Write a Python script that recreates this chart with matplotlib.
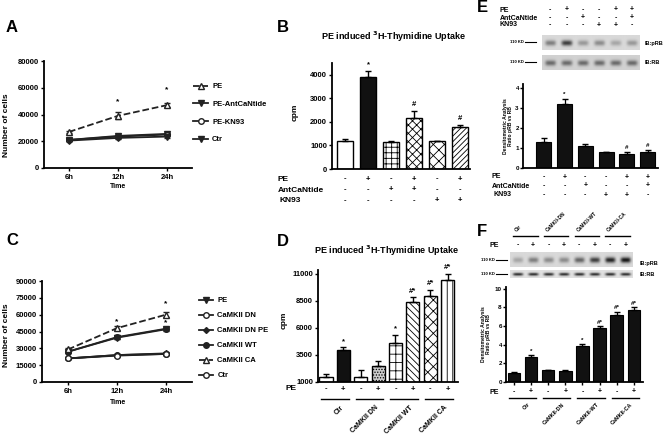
import numpy as np
import matplotlib
matplotlib.use("Agg")
import matplotlib.pyplot as plt
from matplotlib.transforms import blended_transform_factory
from matplotlib.lines import Line2D

# ----------------------------
# Data
# ----------------------------
times = ["6h", "12h", "24h"]

# panel A - cell number
a_names = ["PE", "PE-AntCaNtide", "PE-KN93", "Ctr"]
a_vals = [[27000, 39000, 47000],
          [21000, 24000, 25500],
          [21000, 23500, 25000],
          [20500, 22500, 23500]]
a_errs = [[1000, 2500, 1500],
          [600, 800, 1000],
          [600, 800, 900],
          [500, 700, 800]]
a_stars = [(1, 49300), (2, 58300)]

# panel C - cell number
c_names = ["PE", "CaMKII DN", "CaMKII DN PE", "CaMKII WT", "CaMKII CA", "Ctr"]
c_vals = [[27000, 39500, 47000],
          [21000, 24000, 25000],
          [21000, 24000, 25500],
          [27000, 40000, 47500],
          [29000, 48000, 60000],
          [21000, 23500, 25000]]
c_errs = [[1000, 1500, 1500],
          [600, 800, 800],
          [600, 800, 800],
          [1000, 1500, 1500],
          [1000, 1500, 2500],
          [600, 800, 800]]
c_stars = [(1, 53500), (2, 69500), (2, 52500)]

# panel B - thymidine uptake
b_vals = [1200, 3900, 1150, 2150, 1170, 1800]
b_errs = [70, 250, 40, 300, 30, 80]
b_marks = ["", "*", "", "#", "", "#"]
b_pe = ["-", "+", "-", "+", "-", "+"]
b_ant = ["-", "-", "+", "+", "-", "-"]
b_kn = ["-", "-", "-", "-", "+", "+"]

# panel D - thymidine uptake
d_vals = [1500, 3950, 1500, 2500, 4600, 8400, 9000, 10400]
d_errs = [200, 250, 600, 450, 750, 450, 500, 600]
d_marks = ["", "*", "", "", "*", "#*", "#*", "#*"]
d_groups = ["Ctr", "CaMKII DN", "CaMKII WT", "CaMKII CA"]
pe_pairs = ["-", "+", "-", "+", "-", "+", "-", "+"]

# panel E - densitometry
e_vals = [1.3, 3.2, 1.1, 0.78, 0.7, 0.8]
e_errs = [0.2, 0.25, 0.08, 0.02, 0.1, 0.1]
e_marks = ["", "*", "", "", "#", "#"]
e_pe = ["-", "+", "-", "-", "+", "+"]
e_ant = ["-", "-", "+", "-", "-", "+"]
e_kn = ["-", "-", "-", "+", "+", "-"]
e_prb = [0.35, 0.6, 0.25, 0.3, 0.2, 0.25]
e_rb = [0.4, 0.4, 0.4, 0.4, 0.4, 0.4]

# panel F - densitometry
f_vals = [1.0, 2.65, 1.25, 1.2, 3.85, 5.8, 7.2, 7.75]
f_errs = [0.05, 0.2, 0.05, 0.05, 0.2, 0.2, 0.35, 0.3]
f_marks = ["", "*", "", "", "*", "#*", "#*", "#*"]
f_groups = ["Ctr", "CaMKII-DN", "CaMKII-WT", "CaMKII-CA"]
f_prb = [0.2, 0.35, 0.3, 0.3, 0.45, 0.6, 0.7, 0.75]
f_rb = [0.7, 0.7, 0.7, 0.7, 0.7, 0.7, 0.7, 0.7]

# ----------------------------
# Style
# ----------------------------
plt.rcParams["font.family"] = ["Liberation Sans", "DejaVu Sans"]
plt.rcParams["font.weight"] = "bold"
plt.rcParams["font.size"] = 5.5
plt.rcParams["axes.linewidth"] = 1.3
plt.rcParams["xtick.major.width"] = 1.0
plt.rcParams["ytick.major.width"] = 1.0
plt.rcParams["xtick.major.size"] = 2.5
plt.rcParams["ytick.major.size"] = 2.5
plt.rcParams["xtick.major.pad"] = 1.5
plt.rcParams["ytick.major.pad"] = 1.0
plt.rcParams["hatch.linewidth"] = 0.6

W, H = 664, 434
fig = plt.figure(figsize=(W / 100, H / 100), dpi=100)


def box(l, t, r, b):
    return [l / W, 1 - b / H, (r - l) / W, (b - t) / H]


def fx(x):
    return x / W


def fy(y):
    return 1 - y / H


def ftext(x, y, s, **kw):
    fig.text(fx(x), fy(y), s, **kw)


def prism(ax):
    for s in ["top", "right"]:
        ax.spines[s].set_visible(False)


def sign_row(ax, y, signs, size=5.5):
    tr = blended_transform_factory(ax.transData, fig.transFigure)
    for i, s in enumerate(signs):
        ax.text(i, fy(y), s, transform=tr, ha="center", va="center", fontsize=size)


def group_labels(ax, y_line, y_text, groups, size=5, above=False):
    tr = blended_transform_factory(ax.transData, fig.transFigure)
    for g, name in enumerate(groups):
        ax.add_line(Line2D([2 * g - 0.3, 2 * g + 1.3], [fy(y_line)] * 2,
                           transform=tr, color="black", lw=1.0, clip_on=False))
        if above:
            ax.text(2 * g, fy(y_text), name, transform=tr, rotation=45,
                    ha="left", va="bottom", rotation_mode="anchor", fontsize=size)
        else:
            ax.text(2 * g + 0.8, fy(y_text), name, transform=tr, rotation=45,
                    ha="right", va="top", rotation_mode="anchor", fontsize=size)


def blot(ax, levels, bg):
    n = len(levels)
    w = 20
    yy = np.arange(15)[:, None]
    xx = np.arange(w)[None, :]
    band = np.exp(-((yy - 7.5) / 2.8) ** 2) * np.exp(-((xx - w / 2) / (w * 0.33)) ** 4)
    img = np.full((15, n * w), bg)
    for i, lv in enumerate(levels):
        img[:, i * w:(i + 1) * w] -= lv * band
    ax.imshow(img, cmap="gray", vmin=0, vmax=1, aspect="auto",
              interpolation="bilinear", extent=(-0.5, n - 0.5, 1, 0))
    ax.set_xticks([])
    ax.set_yticks([])
    for s in ax.spines.values():
        s.set_visible(False)


# ----------------------------
# Panel A
# ----------------------------
axA = fig.add_axes(box(44, 61, 192, 168))
styles_a = [dict(marker="^", ls="--", mfc="white"),
            dict(marker="v", ls="-", mfc="#222222"),
            dict(marker="o", ls="-", mfc="white"),
            dict(marker="v", ls="-", mfc="#222222")]
handles = []
x = np.arange(3)
for vals, errs, st in zip(a_vals, a_errs, styles_a):
    c = axA.errorbar(x, vals, yerr=errs, color="#222222", lw=1.3, ms=4,
                     mew=1.0, capsize=2, elinewidth=0.9, **st)
    handles.append(c.lines[0])
for xi, yi in a_stars:
    axA.text(xi, yi, "*", ha="center", va="center", fontsize=6)
axA.set_xlim(-0.51, 2.51)
axA.set_ylim(0, 80000)
axA.set_yticks(np.arange(0, 80001, 20000))
axA.set_xticks(x)
axA.set_xticklabels(times)
prism(axA)
axA.legend(handles, a_names, loc="upper left", bbox_to_anchor=(fx(193), fy(83)),
           bbox_transform=fig.transFigure, frameon=False, labelspacing=1.35,
           handlelength=2.0, handletextpad=0.5, borderpad=0, borderaxespad=0,
           fontsize=5.5)
ftext(118, 187, "Time", ha="center", va="center", fontsize=5)
ftext(7, 125, "Number of cells", rotation=90, ha="center", va="center", fontsize=6)
ftext(12, 28, "A", ha="center", va="center", fontsize=12)

# ----------------------------
# Panel C
# ----------------------------
axC = fig.add_axes(box(42, 281, 192, 382))
styles_c = [dict(marker="v", ls="-", mfc="#222222"),
            dict(marker="o", ls="-", mfc="white"),
            dict(marker="D", ls="-", mfc="#222222", ms=3),
            dict(marker="o", ls="-", mfc="#222222"),
            dict(marker="^", ls="--", mfc="white"),
            dict(marker="o", ls="-", mfc="white")]
handles = []
for vals, errs, st in zip(c_vals, c_errs, styles_c):
    st = dict(st)
    ms = st.pop("ms", 4)
    c = axC.errorbar(x, vals, yerr=errs, color="#222222", lw=1.3, ms=ms,
                     mew=1.0, capsize=2, elinewidth=0.9, **st)
    handles.append(c.lines[0])
for xi, yi in c_stars:
    axC.text(xi, yi, "*", ha="center", va="center", fontsize=6)
axC.set_xlim(-0.53, 2.53)
axC.set_ylim(0, 90000)
axC.set_yticks(np.arange(0, 90001, 15000))
axC.set_xticks(x)
axC.set_xticklabels(times)
prism(axC)
axC.legend(handles, c_names, loc="upper left", bbox_to_anchor=(fx(199), fy(297)),
           bbox_transform=fig.transFigure, frameon=False, labelspacing=1.0,
           handlelength=1.8, handletextpad=0.6, borderpad=0, borderaxespad=0,
           fontsize=5.5)
ftext(118, 402, "Time", ha="center", va="center", fontsize=5)
ftext(7, 335, "Number of cells", rotation=90, ha="center", va="center", fontsize=6)
ftext(12, 240, "C", ha="center", va="center", fontsize=12)

# ----------------------------
# Panel B
# ----------------------------
axB = fig.add_axes(box(332, 63, 470, 169))
b_face = ["white", "#111111", "white", "white", "white", "white"]
b_hatch = ["", "", "+++", "xxxx", "xxx", "//////"]
bx = np.arange(len(b_vals))
axB.bar(bx, b_vals, width=0.7, color=b_face, edgecolor="black", linewidth=1.0,
        hatch=b_hatch)
axB.errorbar(bx, b_vals, yerr=[np.zeros(len(b_errs)), b_errs], fmt="none",
             ecolor="black", elinewidth=1.0, capsize=2.5)
for i, m in enumerate(b_marks):
    if m:
        axB.text(i, b_vals[i] + b_errs[i] + 120, m, ha="center", va="bottom", fontsize=5.5)
axB.set_xlim(-0.57, 5.43)
axB.set_ylim(0, 4500)
axB.set_yticks(np.arange(0, 4001, 1000))
axB.set_xticks([])
prism(axB)
sign_row(axB, 179, b_pe)
sign_row(axB, 190, b_ant)
sign_row(axB, 201, b_kn)
ftext(278, 179, "PE", ha="left", va="center", fontsize=6)
ftext(278, 190, "AntCaNtide", ha="left", va="center", fontsize=6)
ftext(280, 201, "KN93", ha="left", va="center", fontsize=6)
ftext(295, 112, "cpm", rotation=90, ha="center", va="center", fontsize=6)
ftext(393, 37, r"PE induced $^{\mathbf{3}}$H-Thymidine Uptake", ha="center",
      va="center", fontsize=6.5)
ftext(283, 27, "B", ha="center", va="center", fontsize=12)

# ----------------------------
# Panel D
# ----------------------------
axD = fig.add_axes(box(318, 270, 458, 382))
d_face = ["white", "#111111", "white", "#cccccc", "white", "white", "white", "white"]
d_hatch = ["", "", "", "......", "++", "\\\\\\\\\\", "xxx", "|||"]
dx = np.arange(len(d_vals))
axD.bar(dx, d_vals, width=0.75, color=d_face, edgecolor="black", linewidth=1.0,
        hatch=d_hatch)
axD.errorbar(dx, d_vals, yerr=[np.zeros(len(d_errs)), d_errs], fmt="none",
             ecolor="black", elinewidth=1.0, capsize=2.5)
for i, m in enumerate(d_marks):
    if m:
        axD.text(i, d_vals[i] + d_errs[i] + 250, m, ha="center", va="bottom", fontsize=5.5)
axD.set_xlim(-0.46, 7.6)
axD.set_ylim(1000, 11370)
axD.set_yticks([1000, 3500, 6000, 8500, 11000])
axD.set_xticks([])
prism(axD)
sign_row(axD, 389, pe_pairs)
ftext(296, 389, "PE", ha="right", va="center", fontsize=6)
group_labels(axD, 399, 404, d_groups, size=5)
ftext(284, 320, "cpm", rotation=90, ha="center", va="center", fontsize=6)
ftext(386, 251, r"PE induced $^{\mathbf{3}}$H-Thymidine Uptake", ha="center",
      va="center", fontsize=6.5)
ftext(283, 241, "D", ha="center", va="center", fontsize=12)

# ----------------------------
# Panel E
# ----------------------------
ftext(482, 8, "E", ha="center", va="center", fontsize=12)
axE1 = fig.add_axes(box(542, 35, 640, 50))
blot(axE1, e_prb, 0.85)
axE2 = fig.add_axes(box(542, 55, 640, 70))
blot(axE2, e_rb, 0.82)
sign_row(axE1, 10, e_pe, size=5)
sign_row(axE1, 18, e_ant, size=5)
sign_row(axE1, 25, e_kn, size=5)
ftext(500, 10, "PE", ha="left", va="center", fontsize=5)
ftext(500, 18, "AntCaNtide", ha="left", va="center", fontsize=5)
ftext(500, 25, "KN93", ha="left", va="center", fontsize=5)
for yy in [42, 62]:
    ftext(510, yy, "110 KD", ha="left", va="center", fontsize=3)
    fig.add_artist(Line2D([fx(525), fx(536)], [fy(yy), fy(yy)], color="black", lw=0.8))
ftext(645, 43, "IB:pRB", ha="left", va="center", fontsize=4)
ftext(645, 63, "IB:RB", ha="left", va="center", fontsize=4)

axE = fig.add_axes(box(523, 84, 658, 168))
ex = np.arange(len(e_vals))
axE.bar(ex, e_vals, width=0.72, color="#111111", edgecolor="black", linewidth=0.8)
axE.errorbar(ex, e_vals, yerr=[np.zeros(len(e_errs)), e_errs], fmt="none",
             ecolor="black", elinewidth=0.9, capsize=2)
for i, m in enumerate(e_marks):
    if m:
        axE.text(i, e_vals[i] + e_errs[i] + 0.08, m, ha="center", va="bottom", fontsize=4.5)
axE.set_xlim(-1.0, 5.5)
axE.set_ylim(0, 4.2)
axE.set_yticks(np.arange(0, 5))
axE.set_xticks([])
axE.tick_params(labelsize=4.5, pad=0.5)
prism(axE)
sign_row(axE, 177, e_pe, size=5)
sign_row(axE, 186, e_ant, size=5)
sign_row(axE, 195, e_kn, size=5)
ftext(492, 177, "PE", ha="left", va="center", fontsize=5)
ftext(492, 186, "AntCaNtide", ha="left", va="center", fontsize=5)
ftext(494, 195, "KN93", ha="left", va="center", fontsize=5)
ftext(508, 126, "Densitometric Analysis\nRatio pRB vs RB", rotation=90,
      ha="center", va="center", fontsize=3.6, linespacing=1.0)

# ----------------------------
# Panel F
# ----------------------------
ftext(482, 232, "F", ha="center", va="center", fontsize=12)
axF1 = fig.add_axes(box(510, 252, 633, 267))
blot(axF1, f_prb, 0.85)
axF2 = fig.add_axes(box(510, 270, 633, 278))
blot(axF2, f_rb, 0.88)
sign_row(axF1, 245, pe_pairs, size=5)
ftext(490, 245, "PE", ha="left", va="center", fontsize=5)
group_labels(axF1, 236, 233, f_groups, size=3.5, above=True)
for yy in [260, 274]:
    ftext(481, yy, "110 KD", ha="left", va="center", fontsize=3)
    fig.add_artist(Line2D([fx(496), fx(507)], [fy(yy), fy(yy)], color="black", lw=0.8))
ftext(640, 263, "IB:pRB", ha="left", va="center", fontsize=4)
ftext(640, 275, "IB:RB", ha="left", va="center", fontsize=4)

axF = fig.add_axes(box(506, 287, 643, 382))
fxp = np.arange(len(f_vals))
axF.bar(fxp, f_vals, width=0.73, color="#111111", edgecolor="black", linewidth=0.8)
axF.errorbar(fxp, f_vals, yerr=[np.zeros(len(f_errs)), f_errs], fmt="none",
             ecolor="black", elinewidth=0.9, capsize=2)
for i, m in enumerate(f_marks):
    if m:
        axF.text(i, f_vals[i] + f_errs[i] + 0.15, m, ha="center", va="bottom", fontsize=4.5)
axF.set_xlim(-0.47, 7.54)
axF.set_ylim(0, 10.2)
axF.set_yticks(np.arange(0, 11, 2))
axF.set_xticks(fxp)
axF.set_xticklabels([])
axF.tick_params(labelsize=4.5, pad=0.5)
prism(axF)
sign_row(axF, 392, pe_pairs, size=5)
ftext(490, 392, "PE", ha="left", va="center", fontsize=5)
group_labels(axF, 398, 402, f_groups, size=4)
ftext(486, 334, "Densitometric Analysis\nRatio pRB vs RB", rotation=90,
      ha="center", va="center", fontsize=3.6, linespacing=1.0)

fig.savefig("out.png", dpi=100)
